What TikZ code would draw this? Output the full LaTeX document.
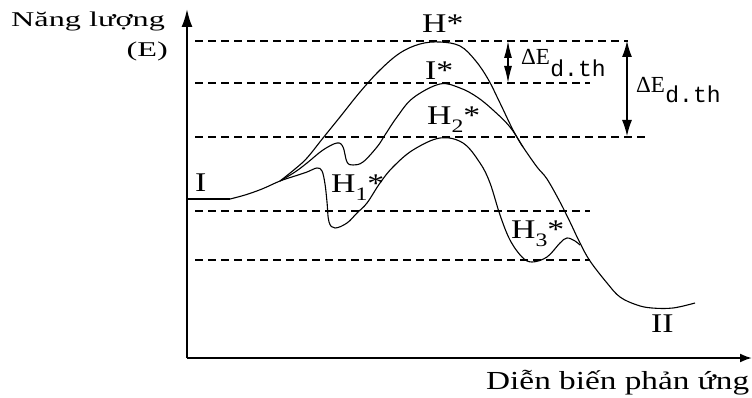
\documentclass[tikz,border=0pt]{standalone}
\usepackage{graphicx}
\usepackage{fontspec}
\setmainfont{Liberation Serif}
\newfontfamily\fB[FakeStretch=1.28]{Liberation Serif}
\newfontfamily\fL[FakeStretch=1.25]{Liberation Serif}
\newfontfamily\fM{Liberation Mono}
\usetikzlibrary{arrows.meta}
\tikzset{
  lbl/.style={inner sep=0pt, anchor=base west, font=\fL\fontsize{27}{29}\selectfont},
  axislbl/.style={inner sep=0pt, anchor=base west, font=\fB\fontsize{21}{23}\selectfont},
  xlbl/.style={inner sep=0pt, anchor=base west, font=\fB\fontsize{26}{28}\selectfont},
  delbl/.style={inner sep=0pt, anchor=base west, font=\fontsize{23}{25}\selectfont},
  sublbl/.style={inner sep=0pt, anchor=base west, font=\fM\fontsize{23}{25}\selectfont},
  level/.style={line width=1.2pt, dash pattern=on 8pt off 5pt},
  axisline/.style={line width=2pt},
  curve/.style={line width=1.1pt, smooth, tension=0.6},
  dbl/.style={line width=1.2pt, {Latex[length=16pt,width=10pt]}-{Latex[length=16pt,width=10pt]}},
  dbls/.style={line width=1.2pt, {Latex[length=17pt,width=8pt]}-{Latex[length=17pt,width=8pt]}},
}
\newcommand{\sbs}[1]{\raisebox{-8pt}{\fontsize{19}{19}\selectfont #1}}
\newcommand{\wideA}[1]{\scalebox{1.2}[1]{#1}}
\begin{document}
\begin{tikzpicture}[x=1pt,y=-1pt]
\useasboundingbox (0,0) rectangle (752,398);
\fill[white] (0,0) rectangle (752,398);

% axes
\coordinate (O) at (187,358);
\coordinate (ytop) at (187,9);
\coordinate (xend) at (752,358);
\draw[axisline, -{Latex[length=18pt,width=11pt]}] (O) -- (ytop);
\draw[axisline, -{Latex[length=12pt,width=9pt]}] (O) -- (xend);

% dashed levels
\coordinate (l1a) at (195,41);  \coordinate (l1b) at (628,41);
\coordinate (l2a) at (195,83);  \coordinate (l2b) at (590,83);
\coordinate (l3a) at (195,137); \coordinate (l3b) at (648,137);
\coordinate (l4a) at (195,211); \coordinate (l4b) at (590,211);
\coordinate (l5a) at (195,260); \coordinate (l5b) at (590,260);
\draw[level] (l1a) -- (l1b);
\draw[level] (l2a) -- (l2b);
\draw[level] (l3a) -- (l3b);
\draw[level] (l4a) -- (l4b);
\draw[level] (l5a) -- (l5b);

% curves
\draw[line width=1.1pt] (187,199) -- (230,199);
\draw[curve] plot coordinates {(230,199) (245,195) (262,189) (280,181) (295,176) (307,172) (317,168) (322,171) (325,184) (327,202) (329,222) (335,228) (347,223) (357,213) (367,203) (380,183) (393,167) (413,150) (440,138) (463,143) (480,163) (490,183) (500,215) (510,240) (522,257) (532,262) (547,257) (560,243) (567,238) (575,241) (580,245)};
\draw[curve] plot coordinates {(280,181) (295,172) (307,163) (323,150) (337,143) (343,147) (347,162) (353,165) (363,162) (377,147) (385,135) (397,117) (413,98) (440,84) (460,88) (477,97) (493,110) (510,127) (523,147) (537,167) (547,179) (560,202) (570,222) (580,243) (590,261) (607,283) (620,297) (637,305) (652,308) (673,308) (695,303)};
\draw[curve] plot coordinates {(280,181) (295,169) (307,158) (323,138) (340,117) (360,92) (380,70) (400,53) (420,44) (440,42) (460,46) (475,60) (488,79) (500,103) (513,130) (523,147)};

% double arrows
\coordinate (s1) at (508,41); \coordinate (s2) at (508,83);
\coordinate (b1) at (627,41); \coordinate (b2) at (627,136);
\draw[dbls] (s1) -- (s2);
\draw[dbl] (b1) -- (b2);

% labels
\node[axislbl] (nl) at (11,27) {\wideA{Năng lượng}};
\node[axislbl, anchor=base east] (E) at (168,57) {\wideA{(E)}};
\node[xlbl] (db) at (486,389) {Diễn biến phản ứng};
\node[lbl] (I) at (195,192) {I};
\node[lbl] (H1) at (331,193) {H\sbs{1}*};
\node[lbl] (H2) at (427,125) {H\sbs{2}*};
\node[lbl] (H3) at (511,238) {H\sbs{3}*};
\node[lbl] (Hs) at (422,33) {H*};
\node[lbl] (Is) at (425,80) {I*};
\node[lbl] (II) at (651,332) {II};
\node[delbl] (de1) at (521,65) {ΔE};
\node[sublbl] (de1s) at ([yshift=-12pt]de1.base east) {d.th};
\node[delbl] (de2) at (636,93) {ΔE};
\node[sublbl] (de2s) at ([yshift=-10pt]de2.base east) {d.th};
\end{tikzpicture}
\end{document}
